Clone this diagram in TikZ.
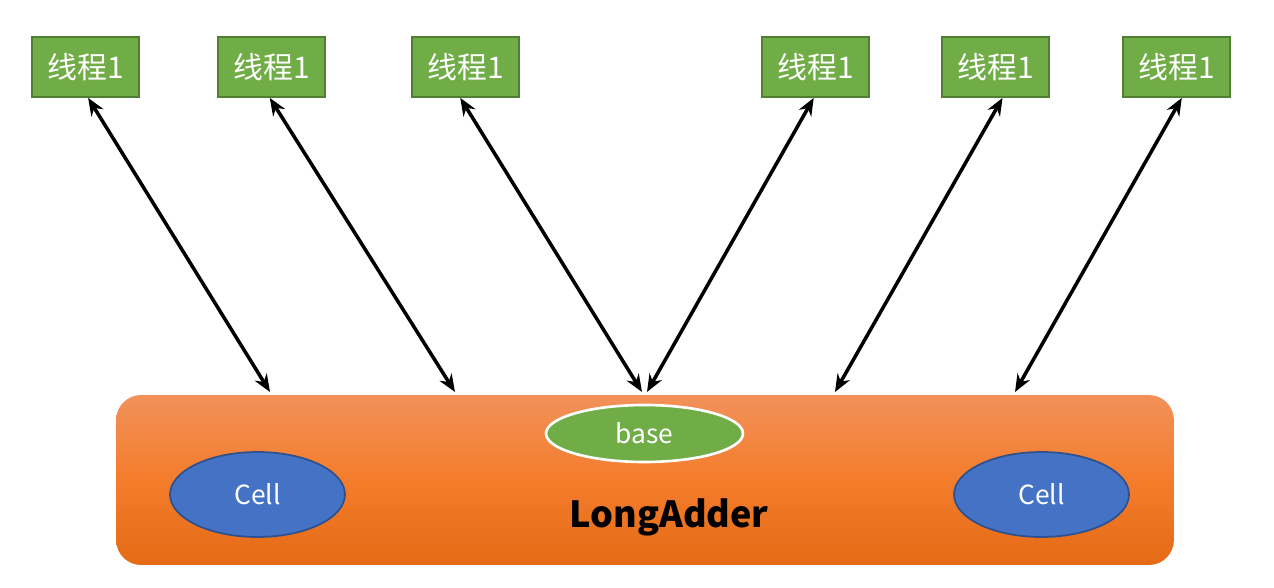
\documentclass[tikz,border=0pt]{standalone}
\usepackage{fontspec}
\setmainfont{Noto Sans CJK SC}
\usetikzlibrary{arrows.meta, shapes.geometric}
\definecolor{threadgreen}{HTML}{70AD47}
\definecolor{threadedge}{HTML}{507E32}
\definecolor{cellblue}{HTML}{4472C4}
\definecolor{celledge}{HTML}{2F528F}
\definecolor{addertop}{HTML}{F2915A}
\definecolor{addermid}{HTML}{F47C2B}
\definecolor{adderbot}{HTML}{E46A15}
\begin{document}
\begin{tikzpicture}[x=0.02cm, y=-0.02cm,
        thread/.style={rectangle, draw=threadedge, line width=1pt, fill=threadgreen, text=white,
            minimum width=2.14cm, minimum height=1.2cm, font=\fontsize{17}{20}\selectfont},
        cell/.style={ellipse, draw=celledge, line width=1pt, fill=cellblue, text=white,
            minimum width=3.5cm, minimum height=1.7cm, font=\fontsize{15}{18}\selectfont},
        link/.style={{Stealth[length=10pt,width=8pt]}-{Stealth[length=10pt,width=8pt]}, line width=2pt}
    ]
        \useasboundingbox (0,0) rectangle (1274,588);

        % LongAdder body
        \node[rectangle, rounded corners=0.5cm, minimum width=21.16cm, minimum height=3.4cm,
            top color=addertop, bottom color=adderbot, middle color=addermid] (adder) at (645,480) {};
        \node[font=\fontsize{20.5}{24}\selectfont\bfseries] (name) at (669,517) {LongAdder};

        % base and cells
        \node[ellipse, draw=white, line width=1.5pt, fill=threadgreen, text=white,
            minimum width=3.94cm, minimum height=1.14cm, font=\fontsize{15}{18}\selectfont] (base) at (644.5,433.5) {base};
        \node[cell] (cell1) at (257.5,494.5) {Cell};
        \node[cell] (cell2) at (1041.5,494.5) {Cell};

        % Threads
        \node[thread] (t1) at (85.5,67) {线程1};
        \node[thread] (t2) at (271.5,67) {线程1};
        \node[thread] (t3) at (465.5,67) {线程1};
        \node[thread] (t4) at (815.5,67) {线程1};
        \node[thread] (t5) at (995.5,67) {线程1};
        \node[thread] (t6) at (1176.5,67) {线程1};

        % Ends on the body
        \coordinate (p1) at (270,392);
        \coordinate (p2) at (455,392);
        \coordinate (p3) at (642,392);
        \coordinate (p4) at (647,392);
        \coordinate (p5) at (835,392);
        \coordinate (p6) at (1015,392);

        % Arrows
        \draw[link] ([xshift=1.5pt]t1.south) -- (p1);
        \draw[link] ([xshift=-1pt]t2.south) -- (p2);
        \draw[link] ([xshift=-3pt]t3.south) -- (p3);
        \draw[link] ([xshift=-1pt]t4.south) -- (p4);
        \draw[link] ([xshift=4pt]t5.south) -- (p5);
        \draw[link] ([xshift=3pt]t6.south) -- (p6);
    \end{tikzpicture}
\end{document}
